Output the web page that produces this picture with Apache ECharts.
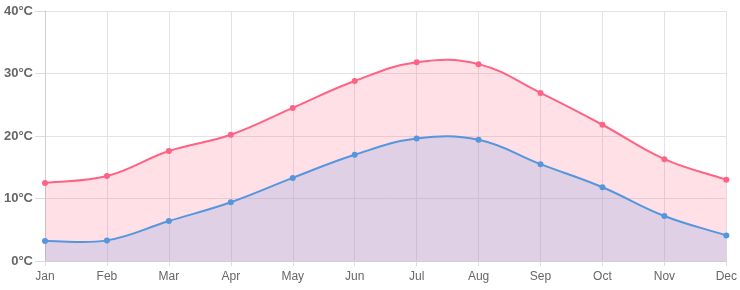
<!DOCTYPE html>
<html>
<head>
<meta charset="utf-8">
<script src="https://cdn.jsdelivr.net/npm/echarts@6/dist/echarts.min.js"></script>
<style>
  html, body { margin: 0; padding: 0; background: #fff; }
  #chart { width: 740px; height: 290px; }
</style>
</head>
<body>
<div id="chart"></div>
<script>
// months on the x axis
const months = ['Jan', 'Feb', 'Mar', 'Apr', 'May', 'Jun', 'Jul', 'Aug', 'Sep', 'Oct', 'Nov', 'Dec']
// °C
const highTemps = [12.5, 13.6, 17.6, 20.2, 24.5, 28.8, 31.8, 31.5, 26.9, 21.8, 16.3, 13.0]
const lowTemps = [3.2, 3.3, 6.4, 9.4, 13.3, 17.0, 19.6, 19.4, 15.5, 11.8, 7.2, 4.1]
const yTicks = [0, 10, 20, 30, 40]

const fontFamily = 'Arial, "Liberation Sans", Helvetica, sans-serif'
const tension = 0.4

// bezier path through the points (same maths as a cardinal spline, no clamping at peaks)
const curvePath = (pts) => {
  const cps = pts.map((cur, i) => {
    const prev = pts[i - 1] || cur
    const next = pts[i + 1] || cur
    const d01 = Math.hypot(cur[0] - prev[0], cur[1] - prev[1])
    const d12 = Math.hypot(next[0] - cur[0], next[1] - cur[1])
    let s01 = d01 / (d01 + d12)
    let s12 = d12 / (d01 + d12)
    s01 = isNaN(s01) ? 0 : s01
    s12 = isNaN(s12) ? 0 : s12
    const fa = tension * s01
    const fb = tension * s12
    return {
      before: [cur[0] - fa * (next[0] - prev[0]), cur[1] - fa * (next[1] - prev[1])],
      after: [cur[0] + fb * (next[0] - prev[0]), cur[1] + fb * (next[1] - prev[1])]
    }
  })
  let d = `M${pts[0][0]},${pts[0][1]}`
  for (let i = 1; i < pts.length; i++) {
    const a = cps[i - 1].after
    const b = cps[i].before
    d += ` C${a[0]},${a[1]} ${b[0]},${b[1]} ${pts[i][0]},${pts[i][1]}`
  }
  return d
}

const curveSeries = (values, lineColor, fillColor, z) => ({
  type: 'custom',
  coordinateSystem: 'cartesian2d',
  data: [[0, 0]],
  silent: true,
  z: z,
  renderItem: (params, api) => {
    const pts = values.map((v, i) => api.coord([i, v]))
    const base = api.coord([0, 0])[1]
    const line = curvePath(pts)
    const last = pts[pts.length - 1]
    const area = line + ` L${last[0]},${base} L${pts[0][0]},${base} Z`
    return {
      type: 'group',
      children: [
        {type: 'path', shape: {pathData: area}, style: {fill: fillColor, stroke: null}},
        {type: 'path', shape: {pathData: line}, style: {fill: null, stroke: lineColor, lineWidth: 2}}
      ]
    }
  }
})

const chart = echarts.init(document.getElementById('chart'), null, {renderer: 'canvas'})

const option = {
  animation: false,
  grid: {
    left: 45,
    right: 13,
    top: 11,
    bottom: 29
  },
  xAxis: {
    type: 'category',
    boundaryGap: false,
    data: months,
    axisLine: {
      show: true,
      lineStyle: {color: '#cfcfcf', width: 1}
    },
    axisTick: {
      show: true,
      alignWithLabel: true,
      length: 5,
      lineStyle: {color: '#dcdcdc'}
    },
    axisLabel: {
      color: '#666',
      fontSize: 12,
      fontFamily: fontFamily,
      margin: 10
    },
    splitLine: {
      show: true,
      lineStyle: {color: '#e3e3e3', width: 1}
    }
  },
  yAxis: {
    type: 'value',
    min: yTicks[0],
    max: yTicks[yTicks.length - 1],
    interval: 10,
    axisLine: {
      show: true,
      lineStyle: {color: '#cfcfcf', width: 1}
    },
    axisTick: {
      show: true,
      length: 10,
      lineStyle: {color: '#dcdcdc'}
    },
    axisLabel: {
      color: '#666',
      fontSize: 13,
      fontWeight: 'bold',
      fontFamily: fontFamily,
      margin: 12,
      formatter: '{value}°C'
    },
    splitLine: {
      show: true,
      lineStyle: {color: '#e3e3e3', width: 1}
    }
  },
  series: [
    curveSeries(highTemps, '#ff6384', 'rgba(255, 99, 132, 0.2)', 2),
    curveSeries(lowTemps, '#5596de', 'rgba(140, 165, 225, 0.28)', 3),
    {
      name: 'High',
      type: 'line',
      data: highTemps,
      symbol: 'circle',
      symbolSize: 6,
      itemStyle: {color: '#ff6384'},
      lineStyle: {opacity: 0},
      z: 4
    },
    {
      name: 'Low',
      type: 'line',
      data: lowTemps,
      symbol: 'circle',
      symbolSize: 6,
      itemStyle: {color: '#5596de'},
      lineStyle: {opacity: 0},
      z: 4
    }
  ]
}

chart.setOption(option)
</script>
</body>
</html>
